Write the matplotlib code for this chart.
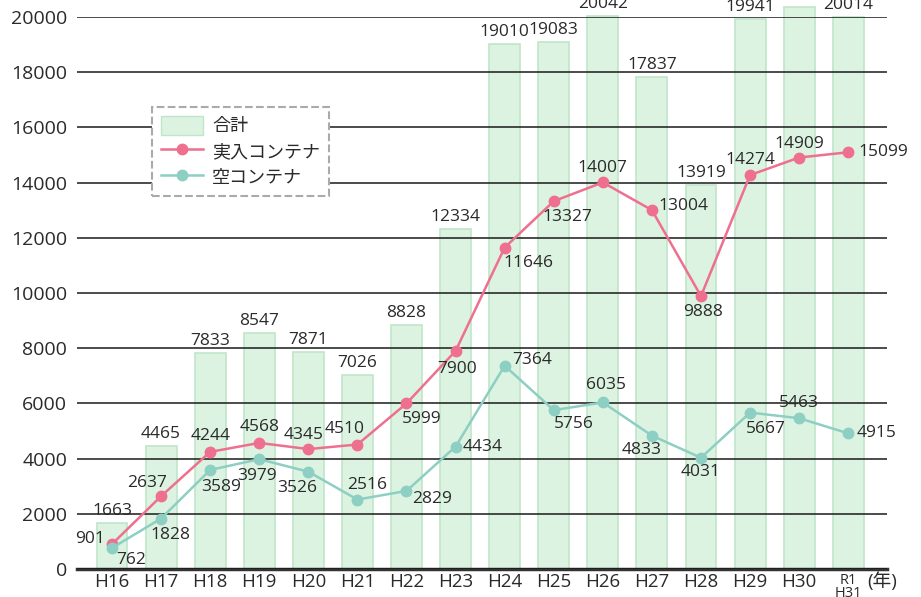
import matplotlib
matplotlib.use('Agg')
import matplotlib.pyplot as plt
from matplotlib.patches import Patch
from matplotlib.lines import Line2D

plt.rcParams['font.family'] = ['Open Sans', 'Noto Sans CJK JP', 'DejaVu Sans']

years = ['H16', 'H17', 'H18', 'H19', 'H20', 'H21', 'H22', 'H23',
         'H24', 'H25', 'H26', 'H27', 'H28', 'H29', 'H30', 'R1\nH31']
total = [1663, 4465, 7833, 8547, 7871, 7026, 8828, 12334,
         19010, 19083, 20042, 17837, 13919, 19941, 20372, 20014]
loaded = [901, 2637, 4244, 4568, 4345, 4510, 5999, 7900,
          11646, 13327, 14007, 13004, 9888, 14274, 14909, 15099]
empty = [762, 1828, 3589, 3979, 3526, 2516, 2829, 4434,
         7364, 5756, 6035, 4833, 4031, 5667, 5463, 4915]

# ラベルの位置 (ピクセル)
loaded_off = [(-22, 5), (-14, 13), (0, 16), (0, 16), (-5, 14), (-13, 16),
              (15, -16), (2, -18), (24, -15), (14, -16), (0, 14), (32, 4),
              (2, -16), (0, 15), (0, 14), (35, 0)]
empty_off = [(19, -12), (9, -16), (11, -17), (-2, -17), (-11, -16), (10, 15),
             (26, -8), (27, 0), (28, 6), (20, -14), (3, 17), (-10, -14),
             (0, -14), (16, -16), (0, 15), (28, 0)]

bar_face = '#dcf3e1'
bar_edge = '#bfe6c8'
pink = '#ef6f8f'
teal = '#8dcfc3'
txt = '#2a2a2a'

fig = plt.figure(figsize=(9.21, 5.97), dpi=100)
ax = fig.add_axes([0.0836, 0.0469, 0.8795, 0.9246])

x = list(range(len(years)))
ax.bar(x, total, width=0.63, color=bar_face, edgecolor=bar_edge,
       linewidth=1.2, zorder=1, clip_on=False)
ax.plot(x, loaded, color=pink, lw=1.8, marker='o', ms=7.5, zorder=4, clip_on=False)
ax.plot(x, empty, color=teal, lw=1.8, marker='o', ms=7.5, zorder=4, clip_on=False)

for i, v in enumerate(total):
    ax.annotate(str(v), (i, v), xytext=(0, 12), textcoords='offset pixels',
                ha='center', va='center', fontsize=12.5, color=txt,
                annotation_clip=False, zorder=3)
for i, v in enumerate(loaded):
    ax.annotate(str(v), (i, v), xytext=loaded_off[i], textcoords='offset pixels',
                ha='center', va='center', fontsize=12.5, color=txt,
                annotation_clip=False, zorder=5)
for i, v in enumerate(empty):
    ax.annotate(str(v), (i, v), xytext=empty_off[i], textcoords='offset pixels',
                ha='center', va='center', fontsize=12.5, color=txt,
                annotation_clip=False, zorder=5)

ax.set_xlim(-0.713, 15.79)
ax.set_ylim(0, 20000)
ax.set_yticks(range(0, 20001, 2000))
ax.yaxis.grid(True, color='#1a1a1a', lw=1.1, zorder=2)
ax.set_axisbelow(False)
ax.tick_params(axis='y', length=0, pad=7, labelsize=14, labelcolor=txt)
ax.tick_params(axis='x', length=0, pad=3, labelsize=13.5, labelcolor=txt)
ax.set_xticks(x)
ax.set_xticklabels(years)
last = ax.get_xticklabels()[-1]
last.set_fontsize(10.5)
last.set_linespacing(0.8)
for s in ['left', 'top', 'right']:
    ax.spines[s].set_visible(False)
ax.spines['bottom'].set_color('#333')
ax.spines['bottom'].set_linewidth(2.5)

ax.text(0.976, -0.006, '(年)', transform=ax.transAxes, ha='left', va='top',
        fontsize=13.5, color=txt)

handles = [Patch(facecolor=bar_face, edgecolor=bar_edge),
           Line2D([], [], color=pink, lw=1.8, marker='o', ms=7.5),
           Line2D([], [], color=teal, lw=1.8, marker='o', ms=7.5)]
leg = ax.legend(handles, ['合計', '実入コンテナ', '空コンテナ'],
                loc='upper left', bbox_to_anchor=(0.0930, 0.837),
                borderaxespad=0, fontsize=13, fancybox=False, framealpha=1,
                handlelength=2.3, handleheight=1.2, labelspacing=0.35,
                borderpad=0.5, handletextpad=0.5)
leg.get_frame().set_edgecolor('#aaaaaa')
leg.get_frame().set_linestyle('--')
leg.get_frame().set_linewidth(1.5)
leg.set_zorder(6)
for t in leg.get_texts():
    t.set_color(txt)

fig.savefig('out.png', dpi=100)
